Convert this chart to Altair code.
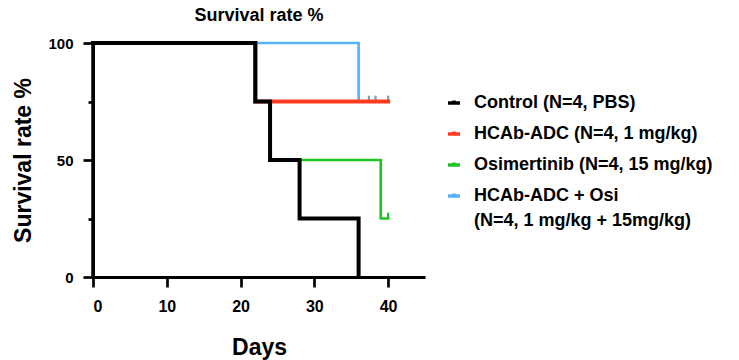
import altair as alt
import pandas as pd

FONT = "Liberation Sans"

series_names = [
    "Control (N=4, PBS)",
    "HCAb-ADC (N=4, 1 mg/kg)",
    "Osimertinib (N=4, 15 mg/kg)",
    "HCAb-ADC + Osi|(N=4, 1 mg/kg + 15mg/kg)",
]
series_colors = ["#000000", "#FF3A1E", "#22C422", "#55B4F8"]
series_widths = [4, 4, 2.7, 2.7]

control_days = [0, 22, 24, 28, 36]
control_surv = [100, 75, 50, 25, 0]
hcab_days = [0, 22, 40]
hcab_surv = [100, 75, 75]
osi_days = [0, 22, 24, 39, 40]
osi_surv = [100, 75, 50, 25, 25]
combo_days = [0, 36, 40]
combo_surv = [100, 75, 75]

# censored observations (tick marks)
combo_censor_days = [37.4, 38.3, 40]
combo_censor_surv = [75, 75, 75]
osi_censor_days = [40]
osi_censor_surv = [25]
censor_tick_height = 2.5

x_ticks = [0, 10, 20, 30, 40]
y_ticks = [0, 25, 50, 75, 100]
y_range = [0, 100]

all_days = [control_days, hcab_days, osi_days, combo_days]
all_surv = [control_surv, hcab_surv, osi_surv, combo_surv]

color_scale = alt.Scale(domain=series_names, range=series_colors)
x_scale = alt.Scale(domain=[0, 45], nice=False)
y_scale = alt.Scale(domain=y_range, nice=False)

axis_common = dict(
    grid=False, ticks=True, domain=True,
    domainColor="#000000", domainWidth=3,
    tickColor="#000000", tickWidth=2.7,
    labelFont=FONT, labelFontWeight="bold", labelColor="#000000",
    titleFont=FONT, titleFontSize=23, titleFontWeight="bold", titleColor="#000000",
)
x_axis = alt.Axis(values=x_ticks, title="Days", tickSize=10, labelPadding=11,
                  titlePadding=22, labelFontSize=16, **axis_common)
y_axis = alt.Axis(values=y_ticks, title="Survival rate %",
                  labelExpr="datum.value % 50 == 0 ? datum.label : ''",
                  tickSize={"condition": {"test": "datum.value % 50 == 0", "value": 10}, "value": 5},
                  labelPadding=10, titlePadding=12, labelFontSize=15, **axis_common)


def line_layer(i):
    df = pd.DataFrame({"day": all_days[i], "surv": all_surv[i], "group": series_names[i]})
    return alt.Chart(df).mark_line(interpolate="step-after", strokeWidth=series_widths[i],
                                   strokeCap="square").encode(
        x=alt.X("day:Q", scale=x_scale, axis=x_axis),
        y=alt.Y("surv:Q", scale=y_scale, axis=y_axis),
        color=alt.Color("group:N", scale=color_scale,
                        legend=alt.Legend(
                            title=None,
                            orient="none",
                            legendX=352,
                            legendY=51,
                            padding=0,
                            labelFont=FONT,
                            labelFontSize=18,
                            labelFontWeight="bold",
                            labelColor="#000000",
                            labelLimit=400,
                            labelOffset=11,
                            rowPadding=12,
                            symbolType="M-1,0H1M0,0V-0.42",
                            symbolSize=144,
                            symbolStrokeWidth=3.5,
                            labelExpr="split(datum.label, '|')",
                        )),
    )


def censor_layer(days, surv, color):
    df = pd.DataFrame({"day": days, "surv": surv,
                       "surv2": [v + censor_tick_height for v in surv]})
    return alt.Chart(df).mark_rule(color=color, strokeWidth=2.2).encode(
        x=alt.X("day:Q", scale=x_scale, axis=x_axis),
        y=alt.Y("surv:Q", scale=y_scale, axis=y_axis),
        y2="surv2:Q",
    )


# y axis line drawn at day 0 across the survival range
yaxis_line = alt.Chart(pd.DataFrame({"day": [0], "lo": [y_range[0]], "hi": [y_range[1]]})).mark_rule(
    color="#000000", strokeWidth=3.5, strokeCap="square"
).encode(
    x=alt.X("day:Q", scale=x_scale, axis=x_axis),
    y=alt.Y("lo:Q", scale=y_scale, axis=y_axis),
    y2="hi:Q",
)

layers = [
    yaxis_line,
    line_layer(3),
    censor_layer(combo_censor_days, combo_censor_surv, "#7C9DC2"),
    line_layer(2),
    censor_layer(osi_censor_days, osi_censor_surv, "#22C422"),
    line_layer(1),
    line_layer(0),
]

chart = alt.layer(*layers).properties(
    width=332,
    height=234,
    autosize="none",
    padding={"left": 93, "top": 43, "right": 314, "bottom": 83},
    title=alt.TitleParams("Survival rate %", font=FONT, fontSize=18, fontWeight="bold",
                          color="#000000", anchor="middle", offset=10),
).configure(
    style={"guide-label": {"lineHeight": 25}}
).configure_view(stroke=None)

chart.save("out.html", embed_options={"renderer": "svg", "actions": False})
